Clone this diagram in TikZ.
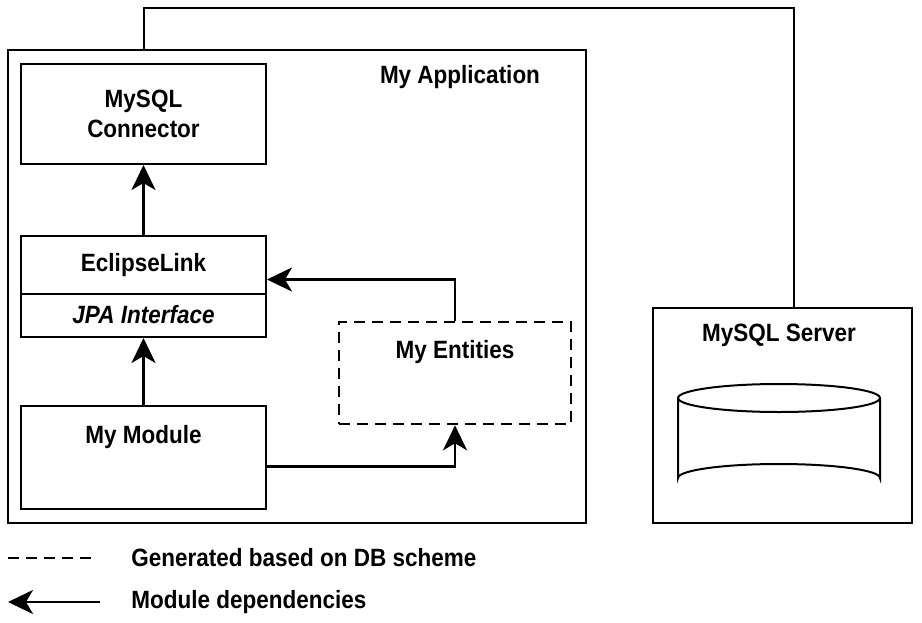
\documentclass[tikz,border=0pt]{standalone}
\usepackage{fontspec}
\setmainfont{Liberation Sans}[FakeStretch=0.9]
\usetikzlibrary{arrows.meta,positioning}

\begin{document}
\begin{tikzpicture}[x=1pt,y=-1pt,line width=2pt,
	font=\fontsize{25}{30}\selectfont\bfseries,
	box/.style={rectangle, draw, inner sep=0pt},
	gen/.style={draw, line width=2.6pt, dash pattern=on 11pt off 7pt},
	dep/.style={line width=2.8pt, -{Stealth[length=25pt,width=24pt,inset=7pt]}}]
	\useasboundingbox (0,0) rectangle (922,622);
	% boxes
	\node[box, minimum width=578, minimum height=473] (app) at (297,286.5) {};
	\node (apptitle) at (460,77) {My Application};
	\node[box, minimum width=245, minimum height=100, align=center] (conn) at (143.5,114) {MySQL\\Connector};
	\node[box, minimum width=245, minimum height=101] (ecl) at (143.5,286.5) {};
	\draw (ecl.west |- 0,294) -- (ecl.east |- 0,294);
	\node (ecltitle) at (143.5,265) {EclipseLink};
	\node (jpa) at (143.5,315) {\itshape JPA Interface};
	\node[box, minimum width=245, minimum height=103] (mod) at (143.5,457.5) {};
	\node (modtitle) at (143.5,437) {My Module};
	\node[box, gen, minimum width=232, minimum height=102] (ent) at (455,373) {};
	\node (enttitle) at (455,352) {My Entities};
	\node[box, minimum width=259, minimum height=215] (srv) at (782.5,415.5) {};
	\node (srvtitle) at (779,335) {MySQL Server};
	% database
	\draw (678,398) -- (678,478) arc[start angle=180, end angle=360, x radius=101, y radius=14] -- (880,398);
	\draw (779,398) ellipse[x radius=101, y radius=14];
	% wiring
	\coordinate (wire) at (794,8);
	\draw (app.north -| conn.north) |- (wire) -- (wire |- srv.north);
	\draw[dep] (ecl.north) -- (conn.south);
	\draw[dep] (mod.north) -- (ecl.south);
	\draw[dep] (ent.north) |- ([yshift=7pt]ecl.east);
	\draw[dep] ([yshift=-9pt]mod.east) -| (ent.south);
	% legend
	\coordinate (g1) at (8,558);
	\coordinate (g2) at (94,558);
	\draw[gen] (g1) -- (g2);
	\node[anchor=west] (gentext) at (127,558) {Generated based on DB scheme};
	\coordinate (d1) at (100,602);
	\coordinate (d2) at (8,602);
	\draw[dep] (d1) -- (d2);
	\node[anchor=west] (deptext) at (127,602) {Module dependencies};
\end{tikzpicture}
\end{document}
